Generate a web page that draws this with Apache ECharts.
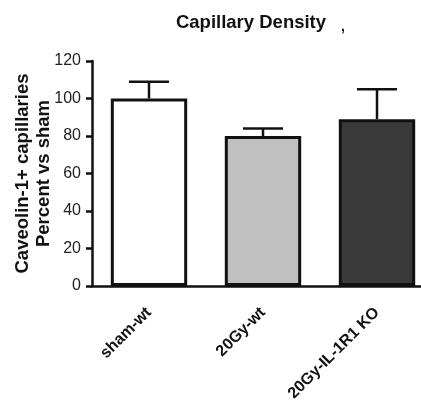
<!DOCTYPE html>
<html>
<head>
<meta charset="utf-8">
<script src="https://cdn.jsdelivr.net/npm/echarts@6/dist/echarts.min.js"></script>
<style>
  html, body { margin: 0; padding: 0; background: #fff; }
  #chart { width: 421px; height: 402px; }
</style>
</head>
<body>
<div id="chart"></div>
<script>
// 数据
const groups = ['sham-wt', '20Gy-wt', '20Gy-IL-1R1 KO'];
const means = [100, 80, 89];
const upper = [109, 84, 105];
const fills = ['#ffffff', '#c0c0c0', '#3a3a3a'];
const yTicks = [0, 20, 40, 60, 80, 100, 120];

const chart = echarts.init(document.getElementById('chart'));

// 误差线 (只画上半部分)
function errorBar(params, api) {
    const idx = api.value(0);
    const base = api.coord([idx, api.value(1)]);
    const top = api.coord([idx, api.value(2)]);
    const half = 20;
    const style = { stroke: '#111', lineWidth: 2.5 };
    return {
        type: 'group',
        children: [
            { type: 'line', shape: { x1: base[0], y1: base[1], x2: top[0], y2: top[1] }, style },
            { type: 'line', shape: { x1: top[0] - half, y1: top[1], x2: top[0] + half, y2: top[1] }, style }
        ]
    };
}

chart.setOption({
    animation: false,
    title: {
        text: 'Capillary Density',
        left: 246,
        top: 8,
        textAlign: 'center',
        textStyle: { fontFamily: 'Liberation Sans', fontSize: 18.5, fontWeight: 'bold', color: '#111' }
    },
    graphic: [{
        type: 'text', left: 341, top: 20,
        style: { text: ',', fontFamily: 'Liberation Sans', fontSize: 14, fontWeight: 'bold', fill: '#111' }
    }],
    grid: { left: 92, right: -13, top: 61, bottom: 116, outerBoundsMode: 'none', containLabel: false },
    xAxis: {
        type: 'category',
        data: groups,
        axisLine: { lineStyle: { color: '#111', width: 2.5 } },
        axisTick: { alignWithLabel: true, length: 6, lineStyle: { color: '#111', width: 2.5 } },
        axisLabel: {
            rotate: 45, margin: 24, color: '#111',
            fontFamily: 'Liberation Sans', fontSize: 16, fontWeight: 'bold'
        }
    },
    yAxis: {
        type: 'value',
        min: yTicks[0],
        max: yTicks[yTicks.length - 1],
        interval: 20,
        name: 'Caveolin-1+ capillaries\nPercent vs sham',
        nameLocation: 'middle',
        nameGap: 38,
        nameMoveOverlap: false,
        nameTextStyle: {
            fontFamily: 'Liberation Sans', fontSize: 18.5, fontWeight: 'bold',
            color: '#111', lineHeight: 21
        },
        splitLine: { show: false },
        axisLine: { show: true, lineStyle: { color: '#111', width: 2.5 } },
        axisTick: { show: true, length: 6, lineStyle: { color: '#111', width: 2.5 } },
        axisLabel: { margin: 11, color: '#222', fontFamily: 'Liberation Sans', fontSize: 16 }
    },
    series: [
        {
            type: 'bar',
            barWidth: '67%',
            data: means.map((v, i) => ({
                value: v,
                itemStyle: { color: fills[i], borderColor: '#111', borderWidth: 3 }
            })),
            z: 2
        },
        {
            type: 'custom',
            renderItem: errorBar,
            data: means.map((v, i) => [i, v, upper[i]]),
            z: 1
        }
    ]
});
</script>
</body>
</html>
